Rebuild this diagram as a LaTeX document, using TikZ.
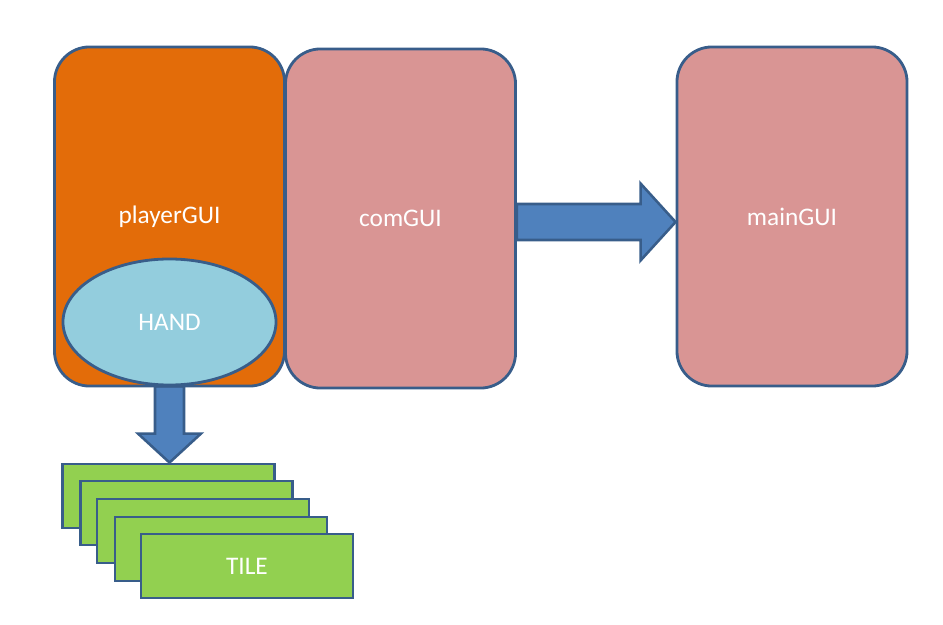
\documentclass[tikz,border=0pt]{standalone}
\usepackage{fontspec}
\setmainfont{Carlito}
\usetikzlibrary{calc,shapes.geometric,backgrounds}
\definecolor{edge}{HTML}{385D8A}
\definecolor{flow}{HTML}{4F81BD}
\definecolor{player}{HTML}{E36C09}
\definecolor{rose}{HTML}{D99594}
\definecolor{sky}{HTML}{93CDDD}
\definecolor{leaf}{HTML}{92D050}
\tikzset{
  font=\fontsize{18}{22}\selectfont,
  panel/.style={draw=edge, line width=2pt, rounded corners=0.875cm, text=white,
    minimum width=5.75cm, minimum height=8.475cm, inner sep=0pt},
  blob/.style={ellipse, draw=edge, line width=2pt, fill=sky, text=white,
    minimum width=5.325cm, minimum height=3.15cm, inner sep=0pt},
  tilebox/.style={draw=edge, line width=2pt, fill=leaf, text=white,
    minimum width=5.3cm, minimum height=1.6cm, inner sep=0pt},
  blockarrow/.style={draw=edge, fill=flow, line width=1.8pt, line join=miter},
}
\begin{document}
\begin{tikzpicture}[x=0.025cm, y=-0.025cm]
\useasboundingbox (0,0) rectangle (943,625);
% GUI panels
\node[panel, fill=player] (player) at (169.5,216.5) {playerGUI};
\node[panel, fill=rose] (com) at (400.5,218.5) {comGUI};
\node[panel, fill=rose] (main) at (792,216.5) {mainGUI};
\node[blob] (hand) at (169.5,322) {HAND};
% stacked tiles
\node[tilebox] (tile1) at (168.5,496) {};
\node[tilebox] (tile2) at (186.5,513) {};
\node[tilebox] (tile3) at (203,531) {};
\node[tilebox] (tile4) at (221,549) {};
\node[tilebox] (tile5) at (247,566) {TILE};
% block arrows
\coordinate (handtip) at (hand.south |- tile1.north);
\coordinate (flowtail) at ($(com.east)+(0,3.5)$);
\coordinate (flowtip) at (main.west |- flowtail);
\begin{scope}[on background layer]
\draw[blockarrow] ($(hand.south)+(-14.5,0)$) -- ($(handtip)+(-14.5,-29)$)
  -- ($(handtip)+(-31.5,-29)$) -- (handtip)
  -- ($(handtip)+(31.5,-29)$) -- ($(handtip)+(14.5,-29)$)
  -- ($(hand.south)+(14.5,0)$) -- cycle;
\draw[blockarrow] ($(flowtail)+(0,-18)$) -- ($(flowtip)+(-35,-18)$)
  -- ($(flowtip)+(-35,-38.5)$) -- (flowtip)
  -- ($(flowtip)+(-35,38.5)$) -- ($(flowtip)+(-35,18)$)
  -- ($(flowtail)+(0,18)$) -- cycle;
\end{scope}
\end{tikzpicture}
\end{document}
